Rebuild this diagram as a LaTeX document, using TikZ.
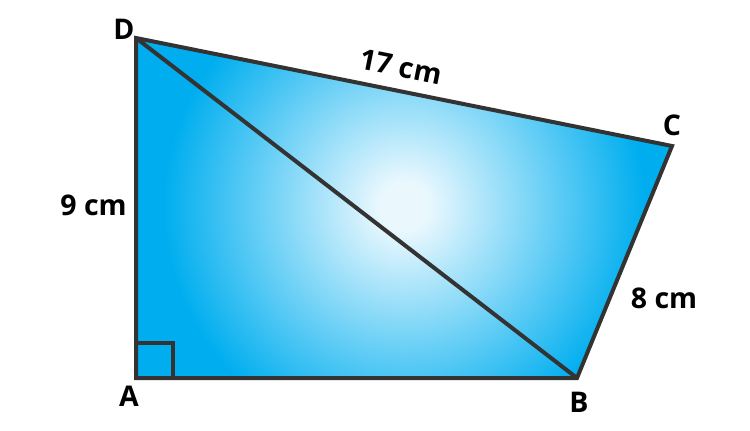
\documentclass[tikz,border=0pt]{standalone}
\usepackage{fontspec}
\setmainfont{Open Sans}
\definecolor{edge}{HTML}{333333}
\definecolor{skyblue}{HTML}{00AEEF}
\definecolor{paleblue}{HTML}{EAF8FE}
\pgfdeclareradialshading{glow}{\pgfpoint{0bp}{0bp}}{color(0bp)=(paleblue); color(2bp)=(paleblue); color(20bp)=(skyblue); color(50bp)=(skyblue)}
\tikzset{
  lbl/.style={font=\fontsize{28.5}{31}\selectfont\bfseries, text=black, inner sep=0pt},
  edgeline/.style={draw=edge, line width=4pt}
}
\begin{document}
\begin{tikzpicture}[x=1pt,y=-1pt]
\useasboundingbox (0,0) rectangle (750,431);
\coordinate (A) at (136,378);
\coordinate (B) at (577,378);
\coordinate (C) at (672,146);
\coordinate (D) at (136,38);
\fill[skyblue] (A) -- (B) -- (C) -- (D) -- cycle;
\begin{scope}
\clip (A) -- (B) -- (C) -- (D) -- cycle;
\shade[shading=glow] (404,206) circle (300);
\end{scope}
\draw[edgeline] (136,343) -- (173,343) -- (173,378);
\draw[edgeline] (D) -- (B);
\draw[edgeline] (A) -- (B) -- (C) -- (D) -- cycle;
\node[lbl] (lD) at (124,29.5) {D};
\node[lbl] (lC) at (672,125) {C};
\node[lbl] (lB) at (579,402) {B};
\node[lbl] (lA) at (129,396) {A};
\node[lbl, rotate=-11.4] (l17) at (401,67) {17 cm};
\node[lbl] (l9) at (93.5,205) {9 cm};
\node[lbl] (l8) at (664,298) {8 cm};
\end{tikzpicture}
\end{document}
